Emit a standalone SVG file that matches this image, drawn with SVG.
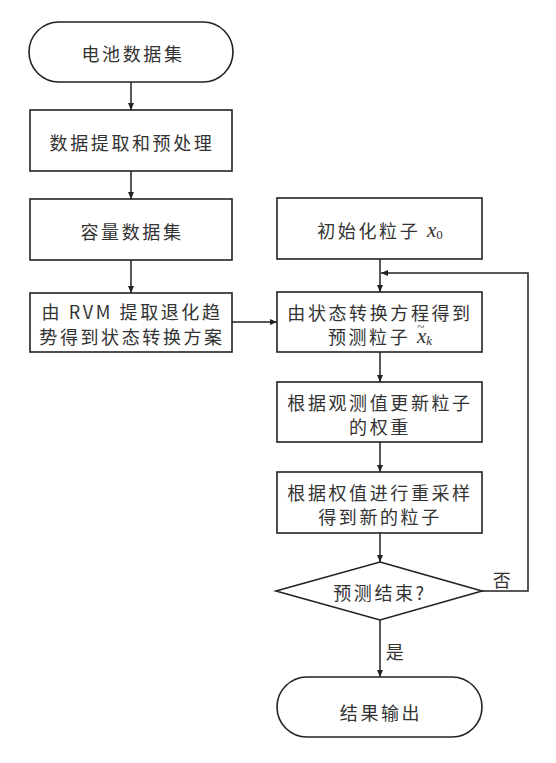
<svg xmlns="http://www.w3.org/2000/svg" width="556" height="763" viewBox="0 0 556 763">
<defs>
<marker id="arr" markerWidth="8" markerHeight="8" refX="7" refY="4" orient="auto" markerUnits="userSpaceOnUse">
<path d="M0,1 L7,4 L0,7 Z" fill="#222"/>
</marker>
<style>
.n{fill:#fff;stroke:#222;stroke-width:1.6}
.t{font-family:"Noto Sans CJK SC","Liberation Serif",serif;font-size:18px;letter-spacing:2.6px;fill:#333;text-anchor:middle;dominant-baseline:central}
.m{font-family:"Liberation Serif",serif;font-style:italic;font-size:21px;letter-spacing:0}
.s{font-family:"Liberation Serif",serif;font-size:13px;letter-spacing:0}
.c{fill:none;stroke:#222;stroke-width:1.5}
</style>
</defs>
<rect width="556" height="763" fill="#fff"/>
<g id="connectors">
<line class="c" x1="131" y1="82" x2="131" y2="110" marker-end="url(#arr)"/>
<line class="c" x1="131" y1="171" x2="131" y2="199" marker-end="url(#arr)"/>
<line class="c" x1="131" y1="260" x2="131" y2="293" marker-end="url(#arr)"/>
<line class="c" x1="232" y1="322" x2="277" y2="322" marker-end="url(#arr)"/>
<line class="c" x1="380" y1="259" x2="380" y2="292" marker-end="url(#arr)"/>
<line class="c" x1="380" y1="352" x2="380" y2="382" marker-end="url(#arr)"/>
<line class="c" x1="380" y1="442" x2="380" y2="472" marker-end="url(#arr)"/>
<line class="c" x1="380" y1="533" x2="380" y2="562" marker-end="url(#arr)"/>
<line class="c" x1="380" y1="620" x2="380" y2="677" marker-end="url(#arr)"/>
<polyline class="c" points="482,591 528,591 528,273 381,273" marker-end="url(#arr)"/>
<text class="t" x="503" y="579">否</text>
<text class="t" x="396" y="651">是</text>
</g>
<g id="start">
<rect class="n" x="29" y="22" width="204" height="60" rx="30" ry="30"/>
<text class="t" x="133" y="53">电池数据集</text>
</g>
<g id="preprocess">
<rect class="n" x="30" y="110" width="202" height="61"/>
<text class="t" x="132" y="142">数据提取和预处理</text>
</g>
<g id="capacity">
<rect class="n" x="30" y="199" width="202" height="61"/>
<text class="t" x="132" y="231">容量数据集</text>
</g>
<g id="rvm">
<rect class="n" x="30" y="293" width="202" height="59"/>
<text class="t" x="132" y="311">由 RVM 提取退化趋</text>
<text class="t" x="132" y="336">势得到状态转换方案</text>
</g>
<g id="init">
<rect class="n" x="277" y="198" width="205" height="61"/>
<text class="t" x="380" y="230">初始化粒子 <tspan class="m">x</tspan><tspan class="s" dy="4">0</tspan></text>
</g>
<g id="predict">
<rect class="n" x="277" y="292" width="205" height="60"/>
<text class="t" x="380" y="312">由状态转换方程得到</text>
<text class="t" x="380" y="336">预测粒子 <tspan class="m">x</tspan><tspan class="s" font-size="15" dx="-9" dy="-10">~</tspan><tspan class="s" font-style="italic" dx="2" dy="14">k</tspan></text>
</g>
<g id="update">
<rect class="n" x="277" y="382" width="205" height="60"/>
<text class="t" x="380" y="402">根据观测值更新粒子</text>
<text class="t" x="380" y="426">的权重</text>
</g>
<g id="resample">
<rect class="n" x="277" y="472" width="205" height="61"/>
<text class="t" x="380" y="492">根据权值进行重采样</text>
<text class="t" x="380" y="516">得到新的粒子</text>
</g>
<g id="decision">
<polygon class="n" points="380,562 482,591 380,620 276,591"/>
<text class="t" x="380" y="592">预测结束?</text>
</g>
<g id="end">
<rect class="n" x="277" y="677" width="205" height="60" rx="30" ry="30"/>
<text class="t" x="381" y="712">结果输出</text>
</g>
</svg>
